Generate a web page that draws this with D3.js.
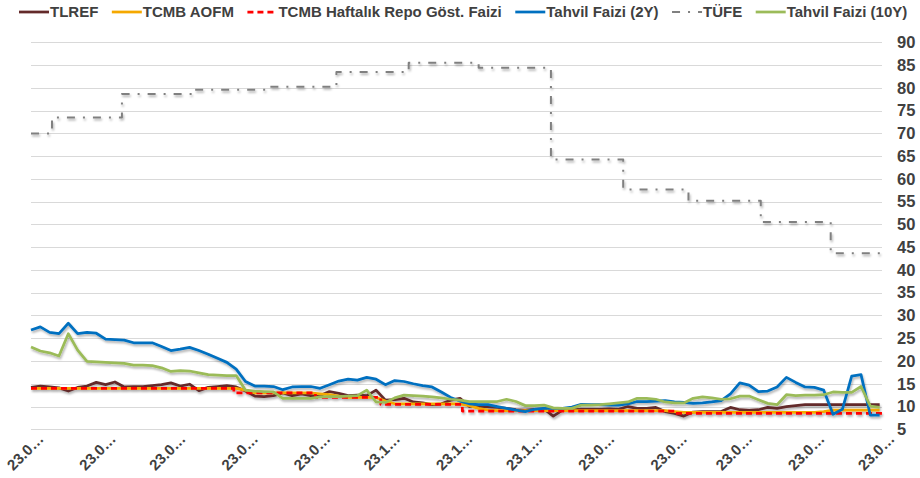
<!DOCTYPE html>
<html>
<head>
<meta charset="utf-8">
<script src="https://cdn.jsdelivr.net/npm/d3@7"></script>
<style>
  body { margin: 0; background: #fff; }
  svg text { font-family: Arial, 'Liberation Sans', sans-serif; font-weight: bold; fill: #404040; }
</style>
</head>
<body>
<div id="chart"></div>
<script>
const WIDTH = 920
const HEIGHT = 478

// x axis: one reading every 4 days starting 23.05.2022
const startDate = '2022-05-23'
const endDate = '2023-05-23'
const sampleStep = 4
const tickDates = ['2022-05-23', '2022-06-23', '2022-07-23', '2022-08-23', '2022-09-23', '2022-10-23',
  '2022-11-23', '2022-12-23', '2023-01-23', '2023-02-23', '2023-03-23', '2023-04-23', '2023-05-23']
const yTicks = [5, 10, 15, 20, 25, 30, 35, 40, 45, 50, 55, 60, 65, 70, 75, 80, 85, 90]

const tlref = [14.2, 14.5, 14.3, 14.1, 13.4, 14.2, 14.5, 15.3, 14.8, 15.4,
  14.3, 14.4, 14.4, 14.6, 14.8, 15.2, 14.5, 14.9, 13.5, 14.2,
  14.4, 14.6, 14.3, 13.4, 12.3, 12.2, 12.4, 13.0, 12.4, 12.8,
  12.4, 12.4, 13.3, 12.9, 12.4, 12.5, 12.4, 13.6, 11.4, 11.5,
  11.8, 11.0, 10.8, 10.4, 10.6, 11.4, 11.8, 10.0, 10.0, 9.9,
  9.8, 9.6, 9.3, 9.2, 9.4, 9.5, 7.9, 9.2, 9.3, 9.4,
  9.4, 9.4, 9.5, 9.4, 10.0, 9.6, 9.6, 9.8, 8.9, 8.5,
  7.9, 8.8, 8.9, 8.9, 8.9, 9.8, 9.3, 9.2, 9.3, 9.8,
  9.6, 10.0, 10.2, 10.4, 10.4, 10.4, 10.4, 10.4, 10.4, 10.4,
  10.4, 10.4]

const aofm = [14, 14, 14, 14, 14, 14, 14, 14, 14, 14,
  14, 14, 14, 14, 14, 14, 14, 14, 14, 14,
  14, 14, 14, 13.6, 13, 13, 13, 13, 13, 13,
  13, 12.8, 12.6, 12.3, 12, 12, 12, 12, 11.2, 10.6,
  10.6, 10.6, 10.6, 10.6, 10.6, 10.6, 10.6, 10.2, 9.6, 9.2,
  9.1, 9.1, 9.1, 9.1, 9.1, 9.1, 9.1, 9.1, 9.1, 9.1,
  9.1, 9.1, 9.1, 9.1, 9.1, 9.1, 9.1, 9.1, 9.1, 8.9,
  8.7, 8.7, 8.7, 8.7, 8.7, 8.7, 8.7, 8.7, 8.7, 8.7,
  8.7, 8.7, 8.7, 8.7, 8.7, 8.9, 9.2, 9.2, 9.2, 9.2,
  9.2, 9.2]

const bond2y = [26.8, 27.5, 26.3, 26.0, 28.3, 26.0, 26.3, 26.1, 24.8, 24.7,
  24.6, 24.0, 24.0, 24.0, 23.2, 22.3, 22.6, 23.0, 22.3, 21.5,
  20.6, 19.7, 18.2, 15.5, 14.5, 14.5, 14.4, 13.7, 14.3, 14.4,
  14.4, 14.0, 14.8, 15.6, 16.0, 15.8, 16.4, 16.0, 14.8, 15.7,
  15.5, 15.0, 14.6, 14.3, 13.2, 12.0, 11.2, 10.6, 10.4, 10.4,
  10.0, 9.6, 9.2, 8.9, 9.4, 9.6, 9.6, 9.6, 9.9, 10.5,
  10.4, 10.4, 10.3, 10.3, 10.6, 11.1, 11.1, 11.2, 11.3, 11.0,
  10.9, 10.7, 10.8, 11.0, 11.3, 12.8, 15.2, 14.7, 13.3, 13.4,
  14.3, 16.4, 15.3, 14.3, 14.2, 13.6, 8.3, 9.4, 16.7, 17.0,
  8.1, 8.1]

const bond10y = [23.1, 22.2, 21.8, 21.1, 26.0, 22.4, 19.9, 19.8, 19.7, 19.6,
  19.5, 19.1, 19.1, 19.0, 18.5, 17.7, 17.9, 17.8, 17.4, 17.0,
  16.9, 16.8, 16.8, 13.6, 13.4, 13.3, 13.2, 11.8, 11.8, 11.8,
  11.8, 12.1, 12.2, 12.2, 12.3, 12.4, 13.6, 11.0, 10.9, 11.9,
  12.5, 12.4, 12.3, 12.1, 11.9, 11.6, 11.4, 11.1, 11.1, 11.1,
  11.1, 11.6, 11.1, 10.2, 10.2, 10.3, 9.7, 9.6, 9.6, 10.3,
  10.3, 10.4, 10.6, 10.8, 11.0, 11.8, 11.8, 11.6, 11.0, 10.8,
  10.8, 11.8, 12.1, 11.9, 11.6, 11.7, 12.3, 12.3, 11.5, 10.7,
  10.4, 12.6, 12.4, 12.5, 12.5, 12.6, 13.2, 13.1, 13.1, 14.4,
  10.1, 9.8]

// step series: value holds from the given date on
const repoDates = ['2022-05-23', '2022-08-18', '2022-09-22', '2022-10-20', '2022-11-24', '2023-02-23']
const repoValues = [14, 13, 12, 10.5, 9, 8.5]

const cpiDates = ['2022-05-23', '2022-06-01', '2022-07-01', '2022-08-01', '2022-09-01', '2022-10-01', '2022-11-01',
  '2022-12-01', '2023-01-01', '2023-02-01', '2023-03-01', '2023-04-01', '2023-05-01']
const cpiValues = [69.97, 73.5, 78.62, 79.6, 80.21, 83.45, 85.51, 84.39, 64.27, 57.68, 55.18, 50.51, 43.68]

const parse = d3.timeParse('%Y-%m-%d')
const start = parse(startDate)
const end = parse(endDate)

const x = d3.scaleTime().domain([start, end]).range([31, 882])
const y = d3.scaleLinear().domain([5, 90]).range([429.3, 42.3])

const svg = d3.select('#chart')
  .append('svg')
  .attr('width', WIDTH)
  .attr('height', HEIGHT)

svg.append('defs')
  .append('filter')
  .attr('id', 'shadow')
  .attr('filterUnits', 'userSpaceOnUse')
  .attr('x', 0).attr('y', 0).attr('width', WIDTH).attr('height', HEIGHT)
  .append('feDropShadow')
  .attr('dx', 1)
  .attr('dy', 2)
  .attr('stdDeviation', 1.3)
  .attr('flood-color', '#000')
  .attr('flood-opacity', 0.3)

// gridlines
svg.append('g')
  .selectAll('line')
  .data(yTicks)
  .enter()
  .append('line')
  .attr('x1', 31)
  .attr('x2', 882)
  .attr('y1', d => Math.round(y(d)) + 0.5)
  .attr('y2', d => Math.round(y(d)) + 0.5)
  .attr('stroke', '#d9d9d9')
  .attr('stroke-width', 1)

// right axis labels
const yAxis = svg.append('g')
  .attr('transform', 'translate(893,0)')
  .call(d3.axisRight(y).tickValues(yTicks).tickSize(0).tickPadding(4))
yAxis.select('.domain').remove()
yAxis.selectAll('text')
  .attr('font-size', 16.5)
  .attr('font-family', null)
  .attr('fill', '#404040')

// bottom axis labels, truncated like the original
const fmt = d3.timeFormat('%d.%m.%Y')
const xAxis = svg.append('g')
  .attr('transform', 'translate(0,430)')
  .call(d3.axisBottom(x).tickValues(tickDates.map(parse)).tickSize(0).tickFormat(d => fmt(d).slice(0, 4) + '…'))
xAxis.select('.domain').remove()
xAxis.selectAll('text')
  .attr('font-size', 15)
  .attr('font-family', null)
  .attr('fill', '#404040')
  .attr('text-anchor', 'end')
  .attr('x', 0)
  .attr('y', 0)
  .attr('dy', 0)
  .attr('transform', 'translate(13,10) rotate(-45)')

const sampled = values => values.map((v, i) => ({ date: d3.timeDay.offset(start, i * sampleStep), value: v }))
const stepped = (dates, values) => {
  const pts = dates.map((d, i) => ({ date: parse(d), value: values[i] }))
  pts.push({ date: end, value: values[values.length - 1] })
  return pts
}

const series = [
  { name: 'TLREF', data: sampled(tlref), color: '#632a2a', width: 2.75, dash: null, curve: d3.curveLinear },
  { name: 'TCMB AOFM', data: sampled(aofm), color: '#f5a800', width: 2.75, dash: null, curve: d3.curveLinear },
  { name: 'TCMB Haftalık Repo Göst. Faizi', data: stepped(repoDates, repoValues), color: '#ff0000', width: 2.75, dash: '6,4', curve: d3.curveStepAfter },
  { name: 'Tahvil Faizi (2Y)', data: sampled(bond2y), color: '#0070c0', width: 2.75, dash: null, curve: d3.curveLinear },
  { name: 'TÜFE', data: stepped(cpiDates, cpiValues), color: '#808080', width: 2, dash: '8,8,2,8', curve: d3.curveStepAfter },
  { name: 'Tahvil Faizi (10Y)', data: sampled(bond10y), color: '#9bbb59', width: 2.75, dash: null, curve: d3.curveLinear }
]

const plot = svg.append('g').attr('filter', 'url(#shadow)')
series.forEach(s => {
  const line = d3.line()
    .x(d => x(d.date))
    .y(d => y(d.value))
    .curve(s.curve)
  plot.append('path')
    .datum(s.data)
    .attr('d', line)
    .attr('fill', 'none')
    .attr('stroke', s.color)
    .attr('stroke-width', s.width)
    .attr('stroke-dasharray', s.dash)
    .attr('stroke-linejoin', 'round')
})

// legend
const legend = svg.append('g').attr('transform', 'translate(19,0)')
let lx = 0
series.forEach(s => {
  legend.append('line')
    .attr('x1', lx)
    .attr('x2', lx + 30)
    .attr('y1', 12)
    .attr('y2', 12)
    .attr('stroke', s.color)
    .attr('stroke-width', s.width)
    .attr('stroke-dasharray', s.dash)
  const t = legend.append('text')
    .attr('x', lx + 31)
    .attr('y', 17)
    .attr('font-size', 15)
    .text(s.name)
  lx += 31 + t.node().getComputedTextLength() + 13.5
})
</script>
</body>
</html>
